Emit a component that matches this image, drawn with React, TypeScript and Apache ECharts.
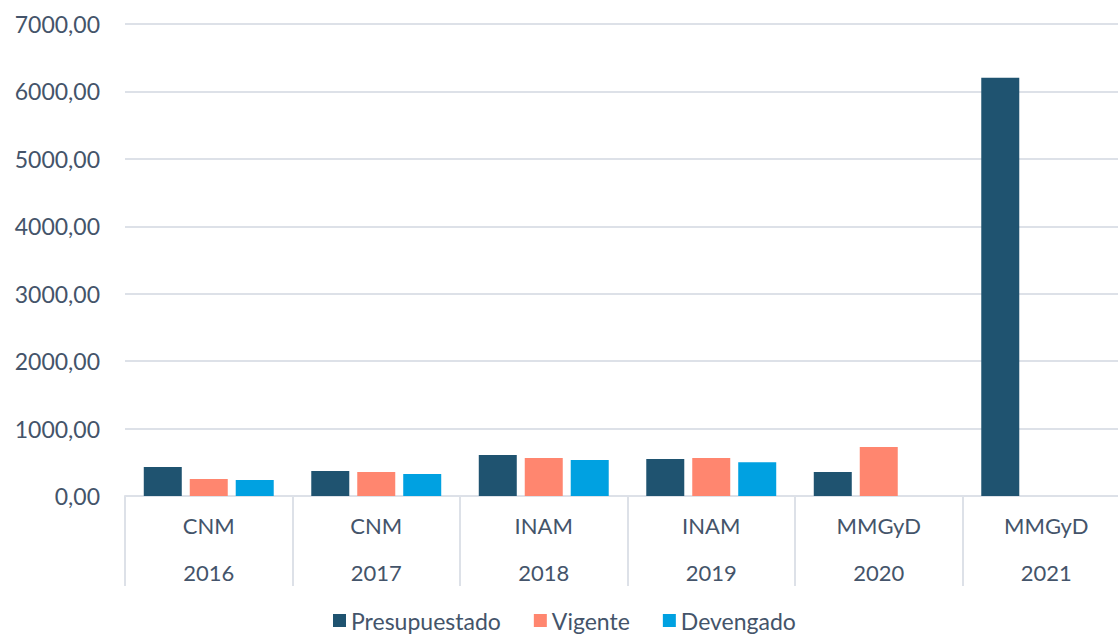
import React, { useEffect, useRef } from "react";
import * as echarts from "echarts";

const entities = ["CNM", "CNM", "INAM", "INAM", "MMGyD", "MMGyD"];
const years = ["2016", "2017", "2018", "2019", "2020", "2021"];
const presupuestado = [430, 371, 608, 549, 356, 6203];
const vigente: (number | null)[] = [252, 356, 564, 564, 727, null];
const devengado: (number | null)[] = [237, 326, 534, 500, null, null];
const seriesNames = ["Presupuestado", "Vigente", "Devengado"];
const colors = ["#1F5370", "#FF866F", "#00A1E1"];

const FONT = "Lato, 'Open Sans', sans-serif";
const TEXT = "#44546A";
const LINE = "#DDE1E8";

export default function App() {
  const ref = useRef<HTMLDivElement>(null);
  useEffect(() => {
    if (!ref.current) return;
    const chart = echarts.init(ref.current, undefined, { renderer: "svg" });
    const categories = entities.map((e, i) => `${e}\n${years[i]}`);
    const data = [presupuestado, vigente, devengado];
    chart.setOption({
      animation: false,
      color: colors,
      grid: { left: 125, right: 0, top: 24, bottom: 138 },
      legend: {
        left: 328,
        top: 604,
        itemWidth: 13,
        itemHeight: 13,
        itemGap: 33,
        icon: "rect",
        textStyle: { color: TEXT, fontSize: 23, fontFamily: FONT },
        data: seriesNames,
      },
      xAxis: {
        type: "category",
        data: categories,
        axisLine: { lineStyle: { color: LINE, width: 2 } },
        axisTick: { show: true, length: 90, interval: 0, lineStyle: { color: LINE, width: 2 } },
        axisLabel: {
          color: TEXT,
          fontSize: 22,
          fontFamily: FONT,
          lineHeight: 47,
          margin: 6,
          interval: 0,
        },
      },
      yAxis: {
        type: "value",
        min: 0,
        max: 7000,
        interval: 1000,
        axisLine: { show: false },
        axisTick: { show: false },
        splitLine: { lineStyle: { color: LINE, width: 2 } },
        axisLabel: {
          color: TEXT,
          fontSize: 23,
          fontFamily: FONT,
          margin: 25,
          formatter: (v: number) => v.toFixed(2).replace(".", ","),
        },
      },
      series: seriesNames.map((name, i) => ({
        name,
        type: "bar",
        data: data[i],
        barWidth: 38,
        barGap: "21%",
        itemStyle: { color: colors[i] },
      })),
    });
    return () => chart.dispose();
  }, []);
  return (
    <div
      style={{ position: "absolute", left: 0, top: 0, width: 1118, height: 634, overflow: "hidden" }}
    >
      <div ref={ref} style={{ width: 1130, height: 634 }} />
    </div>
  );
}
